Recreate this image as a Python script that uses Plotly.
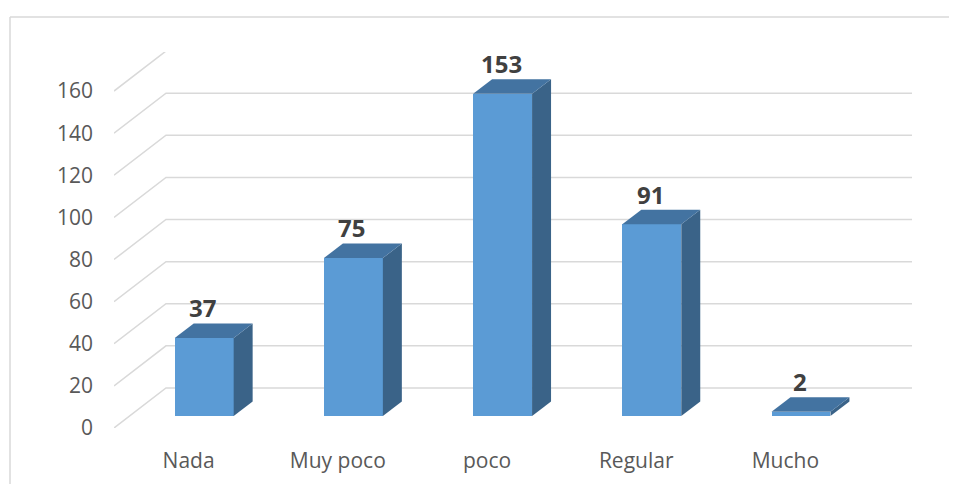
import plotly.graph_objects as go

categories = ["Nada", "Muy poco", "poco", "Regular", "Mucho"]
values = [37, 75, 153, 91, 2]
y_ticks = [0, 20, 40, 60, 80, 100, 120, 140, 160]

# oblique 3D projection parameters (depth offsets in axis units)
DX = 0.3485   # full depth offset along x (category units)
DY = 19.0     # full depth offset along y (value units)
D0, D1 = 0.30, 0.665   # bar front / back depth fractions
BW = 0.395    # bar width (category units)

FRONT = "#5B9BD5"
TOP = "#4373A1"
SIDE = "#3A6388"
GRID = "#D9D9D9"
FONT = "Open Sans"

fig = go.Figure()

xs = list(range(len(categories)))
xmin, xmax = -0.5, len(categories) - 0.5

# front faces via bar trace
fig.add_trace(go.Bar(
    x=[i + D0 * DX for i in xs], y=values, base=D0 * DY, width=BW,
    marker=dict(color=FRONT, line=dict(width=0)), hoverinfo="skip", showlegend=False))

dd = D1 - D0
for i, v in zip(xs, values):
    xl = i - BW / 2 + D0 * DX
    xr = i + BW / 2 + D0 * DX
    yb = D0 * DY
    yt = v + D0 * DY
    # side face
    fig.add_trace(go.Scatter(
        x=[xr, xr, xr + dd * DX, xr + dd * DX, xr],
        y=[yb, yt, yt + dd * DY, yb + dd * DY, yb],
        fill="toself", fillcolor=SIDE, mode="lines", line=dict(width=0, color=SIDE),
        hoverinfo="skip", showlegend=False))
    # top face
    fig.add_trace(go.Scatter(
        x=[xl, xr, xr + dd * DX, xl + dd * DX, xl],
        y=[yt, yt, yt + dd * DY, yt + dd * DY, yt],
        fill="toself", fillcolor=TOP, mode="lines", line=dict(width=0, color=TOP),
        hoverinfo="skip", showlegend=False))
    fig.add_annotation(x=i + D0 * DX - 0.01, y=v + D1 * DY, text=str(v),
                       showarrow=False, yanchor="bottom", xanchor="center", yshift=-3,
                       font=dict(family=FONT, size=24, color="#404040", weight="bold"))

shapes = []
for t in y_ticks:
    path = (f"M {xmin},{t} L {xmin + DX},{t + DY} L {xmax + DX},{t + DY}")
    shapes.append(dict(type="path", path=path, xref="x", yref="y", layer="below",
                       line=dict(color=GRID, width=1.5)))

# page has an 8px body margin; figure occupies the rest of the 957x484 window
W, H = 949, 476
L, R, T, B = 106, 45, 44, 56
pw, ph = W - L - R, H - T - B
# outer chart border (top and left edges)
bx0 = (2 - L) / pw
by1 = (H - B - 9) / ph
shapes.append(dict(type="line", xref="paper", yref="paper", x0=bx0, x1=(W - L) / pw + 0.01,
                   y0=by1, y1=by1, line=dict(color=GRID, width=1.5), layer="below"))
shapes.append(dict(type="line", xref="paper", yref="paper", x0=bx0, x1=bx0,
                   y0=by1, y1=-B / ph - 0.01, line=dict(color=GRID, width=1.5), layer="below"))

fig.update_layout(
    width=W, height=H, margin=dict(l=L, r=R, t=T, b=B, autoexpand=False),
    paper_bgcolor="white", plot_bgcolor="white",
    shapes=shapes, showlegend=False, bargap=0,
    font=dict(family=FONT, size=21, color="#595959"),
)
fig.update_xaxes(range=[xmin, xmax + DX], tickvals=xs, ticktext=categories,
                 showgrid=False, zeroline=False, showline=False, automargin=False,
                 ticks="", ticklabelstandoff=18,
                 tickfont=dict(family=FONT, size=21, color="#595959"))
fig.update_yaxes(range=[0, ph / 2.106], tickvals=y_ticks,
                 showgrid=False, zeroline=False, showline=False, automargin=False,
                 ticks="", ticklabelstandoff=20,
                 tickfont=dict(family=FONT, size=21, color="#595959"))

fig.write_html("out.html")
